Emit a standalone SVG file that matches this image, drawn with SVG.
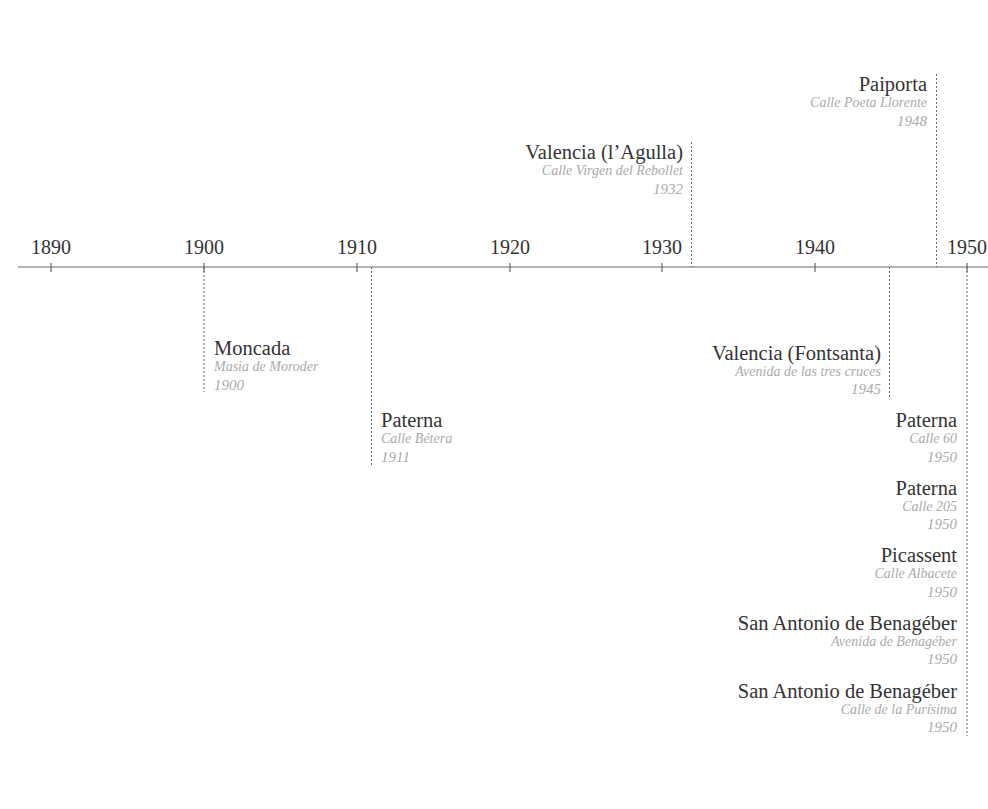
<svg xmlns="http://www.w3.org/2000/svg" width="988" height="809" viewBox="0 0 988 809">
<style>
.yr{font-family:"Liberation Serif",serif;font-size:20px;fill:#333;text-anchor:middle}
.t{font-family:"Liberation Serif",serif;font-size:20.5px;fill:#333}
.s{font-family:"Liberation Serif",serif;font-size:14px;font-style:italic;fill:#aaa}
.y{font-family:"Liberation Serif",serif;font-size:15px;font-style:italic;fill:#aaa}
.r text{text-anchor:end}
.d{stroke:#666;stroke-width:1;stroke-dasharray:2,2;fill:none}
.ax{stroke:#666;stroke-width:1.2;fill:none}
</style>
<rect width="988" height="809" fill="#fff"/>
<g id="axis">
<line class="ax" x1="18" y1="267" x2="988" y2="267"/>
<g class="ax">
<line x1="51" y1="263" x2="51" y2="272"/>
<line x1="204" y1="263" x2="204" y2="272"/>
<line x1="357" y1="263" x2="357" y2="272"/>
<line x1="510" y1="263" x2="510" y2="272"/>
<line x1="662" y1="263" x2="662" y2="272"/>
<line x1="815" y1="263" x2="815" y2="272"/>
<line x1="967" y1="263" x2="967" y2="272"/>
</g>
<text class="yr" x="51" y="254">1890</text>
<text class="yr" x="204" y="254">1900</text>
<text class="yr" x="357" y="254">1910</text>
<text class="yr" x="510" y="254">1920</text>
<text class="yr" x="662" y="254">1930</text>
<text class="yr" x="815" y="254">1940</text>
<text class="yr" x="967" y="254">1950</text>
</g>
<g id="connectors">
<line class="d" x1="204" y1="267" x2="204" y2="392"/>
<line class="d" x1="371.5" y1="267" x2="371.5" y2="465"/>
<line class="d" x1="691.5" y1="142" x2="691.5" y2="267"/>
<line class="d" x1="936.5" y1="74" x2="936.5" y2="267"/>
<line class="d" x1="889.5" y1="267" x2="889.5" y2="397"/>
<line class="d" x1="967" y1="267" x2="967" y2="736"/>
</g>
<g id="moncada">
<text class="t" x="214" y="355">Moncada</text>
<text class="s" x="214" y="371">Masia de Moroder</text>
<text class="y" x="214" y="390">1900</text>
</g>
<g id="paterna-1911">
<text class="t" x="381" y="427">Paterna</text>
<text class="s" x="381" y="443">Calle Bétera</text>
<text class="y" x="381" y="462">1911</text>
</g>
<g id="valencia-agulla" class="r">
<text class="t" x="683" y="159">Valencia (l’Agulla)</text>
<text class="s" x="683" y="175">Calle Virgen del Rebollet</text>
<text class="y" x="683" y="194">1932</text>
</g>
<g id="paiporta" class="r">
<text class="t" x="927" y="91">Paiporta</text>
<text class="s" x="927" y="107">Calle Poeta Llorente</text>
<text class="y" x="927" y="126">1948</text>
</g>
<g id="valencia-fontsanta" class="r">
<text class="t" x="881" y="360">Valencia (Fontsanta)</text>
<text class="s" x="881" y="376">Avenida de las tres cruces</text>
<text class="y" x="881" y="394">1945</text>
</g>
<g id="paterna-60" class="r">
<text class="t" x="957" y="427">Paterna</text>
<text class="s" x="957" y="443">Calle 60</text>
<text class="y" x="957" y="462">1950</text>
</g>
<g id="paterna-205" class="r">
<text class="t" x="957" y="495">Paterna</text>
<text class="s" x="957" y="511">Calle 205</text>
<text class="y" x="957" y="529">1950</text>
</g>
<g id="picassent" class="r">
<text class="t" x="957" y="562">Picassent</text>
<text class="s" x="957" y="578">Calle Albacete</text>
<text class="y" x="957" y="597">1950</text>
</g>
<g id="benageber-avenida" class="r">
<text class="t" x="957" y="630">San Antonio de Benagéber</text>
<text class="s" x="957" y="646">Avenida de Benagéber</text>
<text class="y" x="957" y="664">1950</text>
</g>
<g id="benageber-purisima" class="r">
<text class="t" x="957" y="698">San Antonio de Benagéber</text>
<text class="s" x="957" y="714">Calle de la Purísima</text>
<text class="y" x="957" y="732">1950</text>
</g>
</svg>
